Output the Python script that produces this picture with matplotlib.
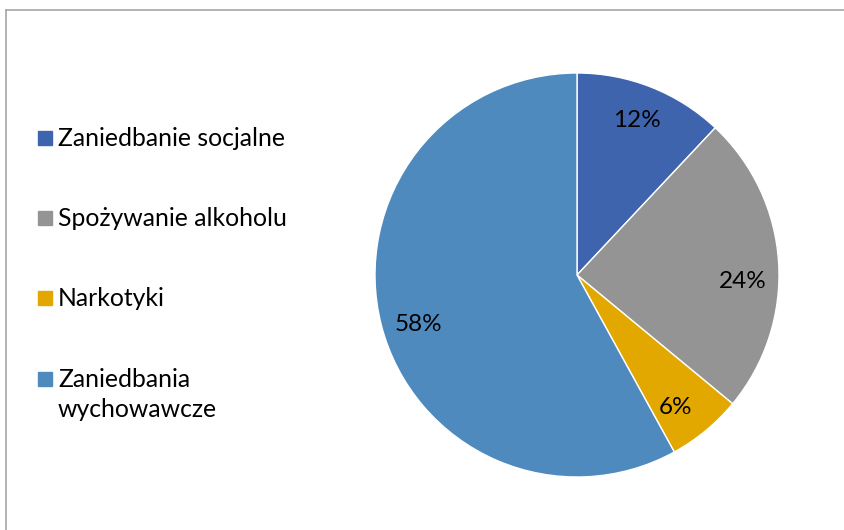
import numpy as np
import matplotlib.pyplot as plt
from matplotlib.patches import Rectangle
from matplotlib.lines import Line2D

categories = ["Zaniedbanie socjalne", "Spożywanie alkoholu", "Narkotyki", "Zaniedbania\nwychowawcze"]
shares = [12, 24, 6, 58]
colors = ["#3F64AE", "#949494", "#E3A800", "#4F8ABE"]

# small angular nudges (deg) of the percent labels, like Excel's best-fit placement
label_nudge = [0.5, -6, -3, 3]

plt.rcParams["font.family"] = ["Lato", "DejaVu Sans"]

fig = plt.figure(figsize=(8.44, 5.30), dpi=100)

# chart frame (top and left edges visible)
fig.add_artist(Line2D([6 / 844, 6 / 844], [0, 1 - 10 / 530], color="#A6A6A6", lw=1.2))
fig.add_artist(Line2D([6 / 844, 1], [1 - 10 / 530, 1 - 10 / 530], color="#A6A6A6", lw=1.2))

ax = fig.add_axes([375 / 844, 53 / 530, 404 / 844, 404 / 530])
wedges, _, autotexts = ax.pie(shares, colors=colors, startangle=90, counterclock=False,
                              autopct="%d%%", pctdistance=0.82,
                              wedgeprops=dict(edgecolor="white", linewidth=1),
                              textprops=dict(fontsize=17.5, color="black"))
for w, t, d in zip(wedges, autotexts, label_nudge):
    ang = np.deg2rad((w.theta1 + w.theta2) / 2 + d)
    t.set_position((0.82 * np.cos(ang), 0.82 * np.sin(ang)))
ax.set_xlim(-1, 1)
ax.set_ylim(-1, 1)
ax.set_aspect("equal")

# legend on the left, baselines in pixels
legend_base = [146, 226, 306, 387]
for lab, col, yb in zip(categories, colors, legend_base):
    fig.add_artist(Rectangle((38 / 844, 1 - (yb - 1) / 530), 14 / 844, 14 / 530,
                             color=col, transform=fig.transFigure))
    for i, line in enumerate(lab.split("\n")):
        fig.text(58 / 844, 1 - (yb + 30 * i) / 530, line, fontsize=17.8,
                 va="baseline", ha="left")

fig.savefig("out.png", dpi=100)
